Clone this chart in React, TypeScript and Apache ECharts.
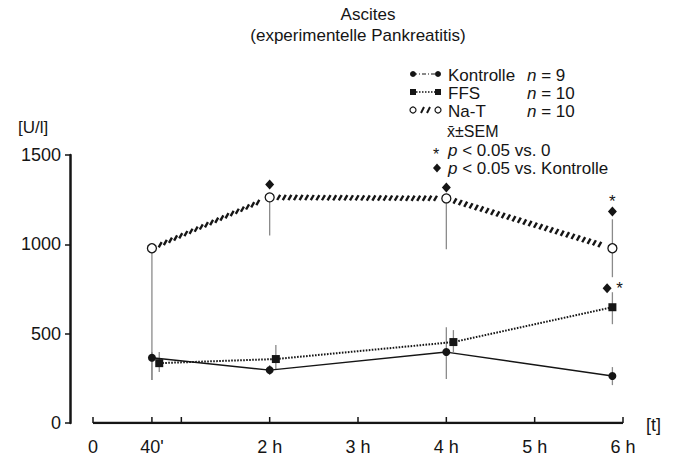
import React, { useEffect, useRef } from "react";
import * as echarts from "echarts";

// ---- data (hours on x, U/l on y) ----
const xTicks = [0, 0.667, 1, 2, 3, 4, 5, 6];
const xTickLabels = ["0", "40'", "", "2 h", "3 h", "4 h", "5 h", "6 h"];

const kontX = [0.667, 2, 4, 5.88];
const kontY = [365, 296, 397, 263];
const kontLow = [240, 268, 246, 212];
const kontHigh = [398, 324, 536, 313];

const ffsX = [0.75, 2.07, 4.08, 5.88];
const ffsY = [335, 358, 453, 648];
const ffsLow = [285, 300, 397, 553];
const ffsHigh = [397, 436, 520, 732];

const natX = [0.667, 2, 4, 5.88];
const natY = [978, 1263, 1257, 978];
const natLow = [240, 1050, 972, 816];
const natHigh = [978, 1263, 1257, 1140];

const diamondX = [2, 4, 5.88, 5.82];
const diamondY = [1335, 1318, 1184, 754];
const starX = [5.88, 5.96];
const starY = [1238, 752];

const FONT = "Liberation Sans, Arial, sans-serif";
const INK = "#151515";

export default function App() {
  const ref = useRef<HTMLDivElement>(null);
  useEffect(() => {
    if (!ref.current) return;
    const chart = echarts.init(ref.current, undefined, { renderer: "svg" });

    const errData: number[][] = [];
    [
      [kontX, kontLow, kontHigh],
      [ffsX, ffsLow, ffsHigh],
      [natX, natLow, natHigh],
    ].forEach(([xs, lo, hi]) => {
      xs.forEach((x, i) => errData.push([x, lo[i], hi[i]]));
    });

    const segs: number[][] = [];
    for (let i = 0; i < natX.length - 1; i++) {
      segs.push([natX[i], natY[i], natX[i + 1], natY[i + 1]]);
    }

    const rich = { i: { fontStyle: "italic", fontSize: 17, fontFamily: FONT } };

    const option: any = {
      animation: false,
      grid: { left: 70, right: 55, top: 155, bottom: 34 },
      xAxis: { type: "value", min: -0.2604, max: 6, show: false },
      yAxis: {
        type: "value",
        min: 0,
        max: 1500,
        interval: 500,
        splitLine: { show: false },
        axisLine: { show: true, onZero: false, lineStyle: { color: INK, width: 2.5 } },
        axisTick: { show: true, length: 5, lineStyle: { color: INK, width: 1.5 } },
        axisLabel: {
          color: INK,
          fontSize: 18,
          fontFamily: FONT,
          margin: 9,
          formatter: (v: number) => String(v),
        },
      },
      graphic: [
        { type: "text", x: 368, y: 14, style: { text: "Ascites", font: `17px ${FONT}`, fill: INK, textAlign: "center", textVerticalAlign: "middle" } },
        { type: "text", x: 358, y: 35, style: { text: "(experimentelle Pankreatitis)", font: `17px ${FONT}`, fill: INK, textAlign: "center", textVerticalAlign: "middle" } },
        { type: "text", x: 18, y: 127, style: { text: "[U/l]", font: `17px ${FONT}`, fill: INK, textVerticalAlign: "middle" } },
        { type: "text", x: 646, y: 425, style: { text: "[t]", font: `18px ${FONT}`, fill: INK, textVerticalAlign: "middle" } },
        // legend row 1
        { type: "line", shape: { x1: 413, y1: 74, x2: 438, y2: 74 }, style: { stroke: INK, lineWidth: 1.2, lineDash: [4, 2, 1, 2] } },
        { type: "circle", shape: { cx: 413, cy: 74, r: 3 }, style: { fill: INK } },
        { type: "circle", shape: { cx: 438, cy: 74, r: 3 }, style: { fill: INK } },
        { type: "text", x: 448, y: 75, style: { text: "Kontrolle", font: `17px ${FONT}`, fill: INK, textVerticalAlign: "middle" } },
        { type: "text", x: 527, y: 75, style: { text: "{i|n} = 9", font: `17px ${FONT}`, fill: INK, textVerticalAlign: "middle", rich } },
        // legend row 2
        { type: "line", shape: { x1: 413, y1: 92, x2: 438, y2: 92 }, style: { stroke: INK, lineWidth: 1.5, lineDash: [1.5, 1.5] } },
        { type: "rect", shape: { x: 410, y: 89, width: 6, height: 6 }, style: { fill: INK } },
        { type: "rect", shape: { x: 435, y: 89, width: 6, height: 6 }, style: { fill: INK } },
        { type: "text", x: 448, y: 93, style: { text: "FFS", font: `17px ${FONT}`, fill: INK, textVerticalAlign: "middle" } },
        { type: "text", x: 527, y: 93, style: { text: "{i|n} = 10", font: `17px ${FONT}`, fill: INK, textVerticalAlign: "middle", rich } },
        // legend row 3
        { type: "circle", shape: { cx: 413, cy: 110, r: 3 }, style: { fill: "#fff", stroke: INK, lineWidth: 1.2 } },
        { type: "circle", shape: { cx: 438, cy: 110, r: 3 }, style: { fill: "#fff", stroke: INK, lineWidth: 1.2 } },
        { type: "line", shape: { x1: 421, y1: 113, x2: 424, y2: 107 }, style: { stroke: INK, lineWidth: 2 } },
        { type: "line", shape: { x1: 427, y1: 113, x2: 430, y2: 107 }, style: { stroke: INK, lineWidth: 2 } },
        { type: "text", x: 448, y: 111, style: { text: "Na-T", font: `17px ${FONT}`, fill: INK, textVerticalAlign: "middle" } },
        { type: "text", x: 527, y: 111, style: { text: "{i|n} = 10", font: `17px ${FONT}`, fill: INK, textVerticalAlign: "middle", rich } },
        // legend rows 4-6
        { type: "text", x: 447, y: 131, style: { text: "x\u0304\u00b1SEM", font: `16px ${FONT}`, fill: INK, textVerticalAlign: "middle" } },
        { type: "text", x: 433, y: 154, style: { text: "*", font: `16px ${FONT}`, fill: INK, textVerticalAlign: "middle" } },
        { type: "text", x: 448, y: 150, style: { text: "{i|p} < 0.05 vs. 0", font: `17px ${FONT}`, fill: INK, textVerticalAlign: "middle", rich } },
        { type: "polygon", shape: { points: [[437, 163.5], [441, 168], [437, 172.5], [433, 168]] }, style: { fill: INK } },
        { type: "text", x: 448, y: 168, style: { text: "{i|p} < 0.05 vs. Kontrolle", font: `17px ${FONT}`, fill: INK, textVerticalAlign: "middle", rich } },
      ],
      series: [
        // x axis line
        {
          type: "line",
          data: [[0, 0], [6, 0]],
          symbol: "none",
          lineStyle: { color: INK, width: 2.5 },
          z: 1,
        },
        // x axis ticks + labels
        {
          type: "custom",
          data: xTicks.map((x) => [x, 0]),
          clip: false,
          z: 1,
          renderItem: (params: any, api: any) => {
            const p = api.coord([api.value(0), 0]);
            const lbl = xTickLabels[params.dataIndex];
            return {
              type: "group",
              children: [
                { type: "line", shape: { x1: p[0], y1: p[1], x2: p[0], y2: p[1] - 6 }, style: { stroke: INK, lineWidth: 1.5 } },
                { type: "text", x: p[0], y: p[1] + 24, style: { text: lbl, font: `18px ${FONT}`, fill: INK, textAlign: "center", textVerticalAlign: "middle" } },
              ],
            };
          },
        },
        // error bars
        {
          type: "custom",
          data: errData,
          z: 2,
          renderItem: (params: any, api: any) => {
            const a = api.coord([api.value(0), api.value(1)]);
            const b = api.coord([api.value(0), api.value(2)]);
            return { type: "line", shape: { x1: a[0], y1: a[1], x2: b[0], y2: b[1] }, style: { stroke: "#8a8a8a", lineWidth: 1.3 } };
          },
        },
        // Na-T hatched line
        {
          type: "custom",
          data: segs,
          z: 3,
          renderItem: (params: any, api: any) => {
            const a = api.coord([api.value(0), api.value(1)]);
            const b = api.coord([api.value(2), api.value(3)]);
            const dx = b[0] - a[0];
            const dy = b[1] - a[1];
            const len = Math.sqrt(dx * dx + dy * dy);
            const ux = dx / len;
            const uy = dy / len;
            const children: any[] = [];
            const gap = 9;
            const step = 5.6;
            const hx = 1.5;
            const hy = -2.6;
            for (let s = gap; s <= len - gap; s += step) {
              const cx = a[0] + ux * s;
              const cy = a[1] + uy * s;
              children.push({
                type: "line",
                shape: { x1: cx - hx, y1: cy - hy, x2: cx + hx, y2: cy + hy },
                style: { stroke: INK, lineWidth: 2.4 },
              });
            }
            return { type: "group", children };
          },
        },
        {
          name: "Kontrolle",
          type: "line",
          data: kontX.map((x, i) => [x, kontY[i]]),
          symbol: "circle",
          symbolSize: 8,
          itemStyle: { color: INK },
          lineStyle: { color: INK, width: 1.4 },
          z: 4,
        },
        {
          name: "FFS",
          type: "line",
          data: ffsX.map((x, i) => [x, ffsY[i]]),
          symbol: "rect",
          symbolSize: 8,
          itemStyle: { color: INK },
          lineStyle: { color: INK, width: 2, type: [1.6, 1.4] },
          z: 4,
        },
        {
          name: "Na-T",
          type: "line",
          data: natX.map((x, i) => [x, natY[i]]),
          symbol: "circle",
          symbolSize: 9,
          itemStyle: { color: "#fff", borderColor: INK, borderWidth: 1.3 },
          lineStyle: { width: 0, opacity: 0 },
          z: 5,
        },
        {
          type: "scatter",
          data: diamondX.map((x, i) => [x, diamondY[i]]),
          symbol: "diamond",
          symbolSize: [9, 10],
          itemStyle: { color: INK, opacity: 1 },
          z: 5,
        },
        {
          type: "custom",
          data: starX.map((x, i) => [x, starY[i]]),
          z: 5,
          clip: false,
          renderItem: (params: any, api: any) => {
            const p = api.coord([api.value(0), api.value(1)]);
            return { type: "text", x: p[0], y: p[1], style: { text: "*", font: `17px ${FONT}`, fill: INK, textAlign: "center", textVerticalAlign: "middle" } };
          },
        },
      ],
    };
    chart.setOption(option);
    return () => chart.dispose();
  }, []);
  return (
    <div
      ref={ref}
      style={{ position: "fixed", left: 0, top: 0, width: 678, height: 457, background: "#fff" }}
    />
  );
}
